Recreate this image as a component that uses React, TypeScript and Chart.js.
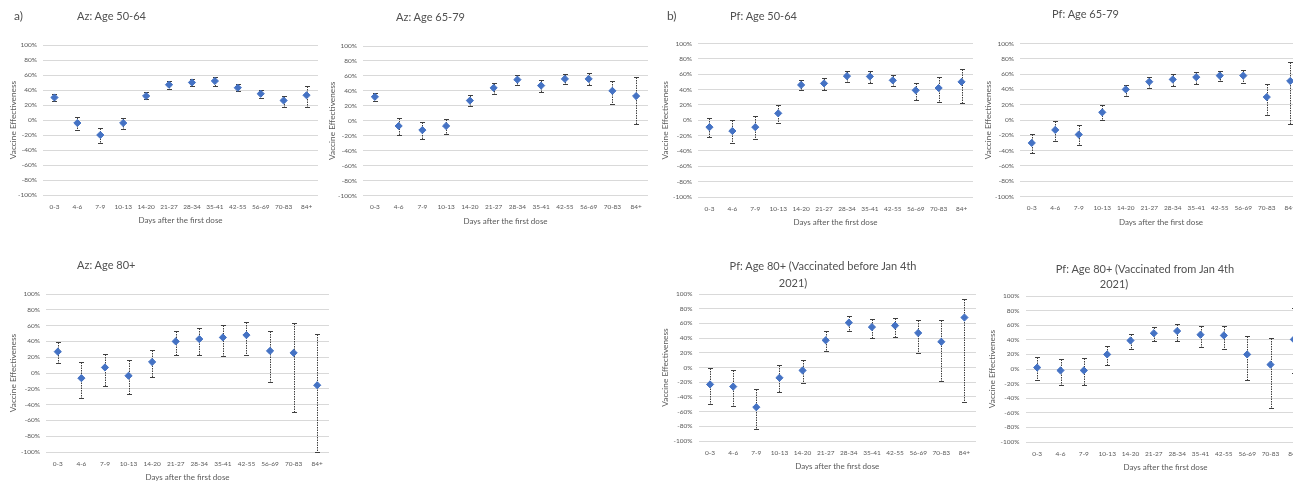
import React, { useEffect, useRef } from 'react';
import { Chart, registerables } from 'chart.js';

Chart.register(...registerables);

const FONT = 'Lato, "Open Sans", sans-serif';

// ---------- data ----------
const categories = ['0-3', '4-6', '7-9', '10-13', '14-20', '21-27', '28-34', '35-41', '42-55', '56-69', '70-83', '84+'];
const yTickStep = 20;

const azAge5064Est = [30, -4, -20, -4, 32, 47, 50, 52, 43, 35, 26, 33];
const azAge5064Lo = [25, -13, -30, -12, 28, 42, 45, 46, 39, 29, 18, 18];
const azAge5064Hi = [35, 4, -11, 3, 37, 52, 55, 57, 48, 40, 32, 46];

const azAge6579Est = [32, -7, -12.5, -7, 27, 44, 55, 47, 56, 56, 40, 33];
const azAge6579Lo = [26, -19, -24, -18, 20, 36, 48, 38, 49, 48, 23, -5];
const azAge6579Hi = [37, 4, -2, 3, 34, 51, 61, 55, 63, 64, 53, 58];

const pfAge5064Est = [-9, -14, -9, 9, 46, 48, 57.5, 57, 52, 39, 42, 50];
const pfAge5064Lo = [-22, -30, -25, -4, 39, 40, 50, 48, 44, 27, 24, 23];
const pfAge5064Hi = [3, 0, 5, 20, 53, 55, 64, 64, 59, 49, 56, 67];

const pfAge6579Est = [-30, -13, -19, 10, 40, 50, 53, 56, 58, 58, 30, 51];
const pfAge6579Lo = [-43, -27, -33, 0, 32, 42, 45, 47, 51, 49, 7, -5];
const pfAge6579Hi = [-18, -1, -6, 20, 46, 56, 60, 63, 64, 66, 47, 76];

const azAge80Est = [27, -6.5, 7, -3.5, 14, 40, 43, 45, 48, 28, 25.5, -15.5];
const azAge80Lo = [13, -32, -16, -27, -5, 23, 23, 21, 23, -12, -49, -100];
const azAge80Hi = [39, 14, 24, 16, 29, 53, 57, 61, 64, 53, 63, 50];

const pfAge80BeforeEst = [-23, -26, -54, -14, -4, 37, 61, 55, 57, 47, 35, 68];
const pfAge80BeforeLo = [-50, -53, -84, -34, -21, 22, 50, 40, 42, 20, -19, -47];
const pfAge80BeforeHi = [0, -3, -29, 3, 10, 50, 70, 66, 68, 64, 65, 93];

const pfAge80FromEst = [2, -2, -2, 20, 39, 49, 52, 47, 46, 20, 6, 40.5];
const pfAge80FromLo = [-15, -22, -22, 6, 28, 38, 39, 30, 28, -15, -54, -5];
const pfAge80FromHi = [16, 14, 15, 32, 48, 58, 62, 59, 59, 45, 42, 83];

// ---------- layout ----------
type Box = { cx: number; cy: number; cw: number; ch: number; l: number; r: number; t: number; b: number };

const panels: { key: string; est: number[]; lo: number[]; hi: number[]; box: Box }[] = [
  { key: 'az5064', est: azAge5064Est, lo: azAge5064Lo, hi: azAge5064Hi, box: { cx: 0, cy: 0, cw: 326, ch: 230, l: 43, r: 318, t: 45, b: 195 } },
  { key: 'az6579', est: azAge6579Est, lo: azAge6579Lo, hi: azAge6579Hi, box: { cx: 319, cy: 0, cw: 336, ch: 230, l: 363, r: 648, t: 46, b: 195.5 } },
  { key: 'pf5064', est: pfAge5064Est, lo: pfAge5064Lo, hi: pfAge5064Hi, box: { cx: 652, cy: 0, cw: 326, ch: 230, l: 698, r: 973, t: 43.5, b: 197 } },
  { key: 'pf6579', est: pfAge6579Est, lo: pfAge6579Lo, hi: pfAge6579Hi, box: { cx: 975, cy: 0, cw: 340, ch: 230, l: 1020, r: 1302, t: 43.5, b: 196.5 } },
  { key: 'az80', est: azAge80Est, lo: azAge80Lo, hi: azAge80Hi, box: { cx: 0, cy: 245, cw: 335, ch: 240, l: 46, r: 329, t: 294, b: 452 } },
  { key: 'pf80b', est: pfAge80BeforeEst, lo: pfAge80BeforeLo, hi: pfAge80BeforeHi, box: { cx: 652, cy: 245, cw: 330, ch: 240, l: 698.5, r: 976, t: 294, b: 441 } },
  { key: 'pf80f', est: pfAge80FromEst, lo: pfAge80FromLo, hi: pfAge80FromHi, box: { cx: 979, cy: 245, cw: 340, ch: 240, l: 1025.5, r: 1305.5, t: 296, b: 442 } },
];

const X_AXIS_H = 30.5;

const errorBarPlugin = {
  id: 'errorBars',
  beforeDatasetsDraw(chart: any) {
    const { ctx } = chart;
    const y = chart.scales.y;
    const ds: any = chart.data.datasets[0];
    const meta = chart.getDatasetMeta(0);
    ctx.save();
    ctx.strokeStyle = '#404040';
    ctx.lineWidth = 1;
    meta.data.forEach((pt: any, i: number) => {
      const px = Math.round(pt.x) + 0.5;
      const yl = Math.round(y.getPixelForValue(ds.errLo[i])) + 0.5;
      const yh = Math.round(y.getPixelForValue(ds.errHi[i])) + 0.5;
      ctx.setLineDash([1.5, 1]);
      ctx.beginPath();
      ctx.moveTo(px, yh);
      ctx.lineTo(px, yl);
      ctx.stroke();
      ctx.setLineDash([]);
      ctx.beginPath();
      ctx.moveTo(px - 2.5, yh);
      ctx.lineTo(px + 2.5, yh);
      ctx.moveTo(px - 2.5, yl);
      ctx.lineTo(px + 2.5, yl);
      ctx.stroke();
    });
    ctx.restore();
  },
};

function Panel({ est, lo, hi, box }: { est: number[]; lo: number[]; hi: number[]; box: Box }) {
  const ref = useRef<HTMLCanvasElement>(null);
  useEffect(() => {
    if (!ref.current) return;
    const yw = box.l - box.cx;
    const padding = {
      left: 0,
      top: box.t - box.cy,
      right: box.cx + box.cw - box.r,
      bottom: box.cy + box.ch - box.b - X_AXIS_H,
    };
    const chart = new Chart(ref.current, {
      type: 'line',
      data: {
        labels: categories,
        datasets: [
          {
            data: est,
            errLo: lo,
            errHi: hi,
            showLine: false,
            pointStyle: 'rectRot',
            pointRadius: 3.6,
            pointBackgroundColor: '#4472C4',
            pointBorderColor: '#4472C4',
            pointBorderWidth: 1,
          } as any,
        ],
      },
      options: {
        animation: false,
        responsive: false,
        devicePixelRatio: 1,
        layout: { padding },
        plugins: { legend: { display: false }, tooltip: { enabled: false }, title: { display: false } },
        scales: {
          x: {
            type: 'category',
            offset: true,
            grid: { display: false, drawTicks: false },
            border: { display: false },
            ticks: { autoSkip: false, maxRotation: 0, padding: 8, color: '#595959', font: { family: FONT, size: 6.5 } },
            title: { display: true, text: 'Days after the first dose', color: '#595959', font: { family: FONT, size: 8 }, padding: { top: 0, bottom: 0 } },
            afterFit: (s: any) => { s.height = X_AXIS_H; },
          },
          y: {
            min: -100,
            max: 100,
            grid: { color: '#D9D9D9', lineWidth: 1, drawTicks: false },
            border: { display: false },
            ticks: { stepSize: yTickStep, padding: 6, color: '#595959', font: { family: FONT, size: 6.5 }, callback: (v: any) => `${v}%` },
            title: { display: true, text: 'Vaccine Effectiveness', color: '#595959', font: { family: FONT, size: 8.3 }, padding: { top: 8, bottom: 0 } },
            afterFit: (s: any) => { s.width = yw; },
          },
        },
      },
      plugins: [errorBarPlugin],
    });
    return () => chart.destroy();
  }, []);
  return (
    <canvas
      ref={ref}
      width={box.cw}
      height={box.ch}
      style={{ position: 'absolute', left: box.cx, top: box.cy, width: box.cw, height: box.ch }}
    />
  );
}

const titleStyle = (left: number, cy: number, size = 11): React.CSSProperties => ({
  position: 'absolute',
  left,
  top: cy - 8,
  lineHeight: '16px',
  fontSize: size,
  color: '#505050',
  fontFamily: FONT,
  whiteSpace: 'nowrap',
});

const centeredTitle = (center: number, cy: number): React.CSSProperties => ({
  ...titleStyle(center - 200, cy),
  width: 400,
  textAlign: 'center',
});

export default function App() {
  return (
    <div style={{ position: 'absolute', left: 0, top: 0, width: 1293, height: 481, overflow: 'hidden', background: '#fff' }}>
      {panels.map((p) => (
        <Panel key={p.key} est={p.est} lo={p.lo} hi={p.hi} box={p.box} />
      ))}
      <div style={titleStyle(14, 16, 12)}>a)</div>
      <div style={titleStyle(77, 16)}>Az: Age 50-64</div>
      <div style={titleStyle(396, 16.5)}>Az: Age 65-79</div>
      <div style={titleStyle(667, 16, 12)}>b)</div>
      <div style={titleStyle(730, 16)}>Pf: Age 50-64</div>
      <div style={titleStyle(1052, 14)}>Pf: Age 65-79</div>
      <div style={titleStyle(77, 265)}>Az: Age 80+</div>
      <div style={centeredTitle(823, 266)}>Pf: Age 80+ (Vaccinated before Jan 4th</div>
      <div style={centeredTitle(793, 283)}>2021)</div>
      <div style={centeredTitle(1145, 269)}>Pf: Age 80+ (Vaccinated from Jan 4th</div>
      <div style={centeredTitle(1114, 284)}>2021)</div>
    </div>
  );
}
